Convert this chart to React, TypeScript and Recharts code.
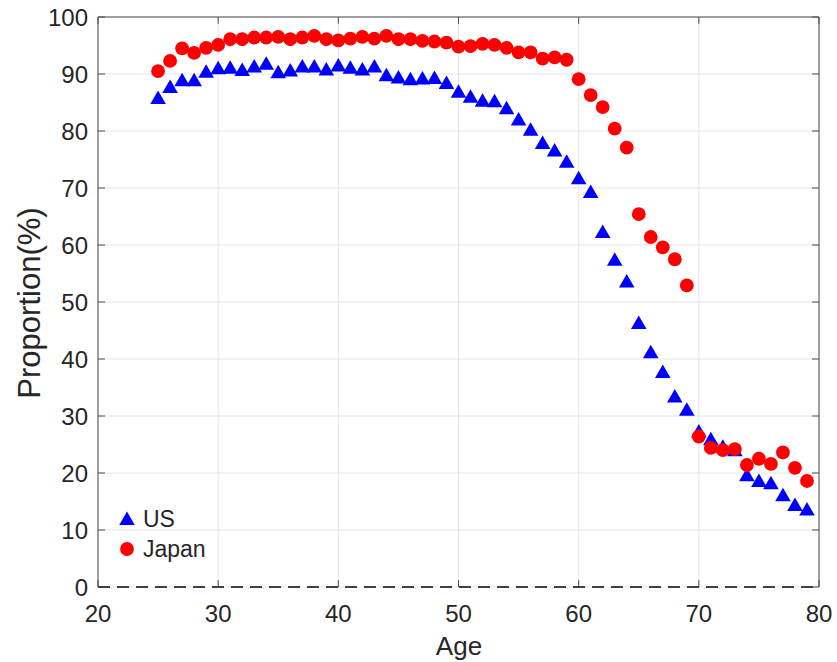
import React from "react"
import { ScatterChart, Scatter, XAxis, YAxis, CartesianGrid, ReferenceLine, Label } from "recharts"

const ages = [
  25, 26, 27, 28, 29, 30, 31, 32, 33, 34, 35, 36, 37, 38, 39, 40, 41, 42, 43, 44, 45, 46, 47, 48, 49, 50, 51, 52,
  53, 54, 55, 56, 57, 58, 59, 60, 61, 62, 63, 64, 65, 66, 67, 68, 69, 70, 71, 72, 73, 74, 75, 76, 77, 78, 79,
]

const usValues = [
  85.8, 87.7, 88.9, 88.9, 90.4, 91.0, 91.1, 90.7, 91.3, 91.8, 90.3, 90.6, 91.3, 91.3, 90.8, 91.5, 91.1, 90.8, 91.3,
  89.8, 89.4, 89.1, 89.2, 89.3, 88.4, 86.9, 86.0, 85.3, 85.2, 84.0, 82.0, 80.2, 77.9, 76.6, 74.6, 71.7, 69.3, 62.3,
  57.4, 53.6, 46.3, 41.2, 37.7, 33.4, 31.1, 27.3, 25.9, 24.6, 24.0, 19.6, 18.6, 18.2, 16.1, 14.4, 13.6,
]

const japanValues = [
  90.5, 92.3, 94.5, 93.7, 94.6, 95.1, 96.1, 96.1, 96.4, 96.4, 96.5, 96.1, 96.4, 96.7, 96.1, 95.9, 96.2, 96.5, 96.2,
  96.7, 96.1, 96.1, 95.8, 95.7, 95.5, 94.8, 94.9, 95.3, 95.1, 94.6, 93.8, 93.8, 92.7, 92.9, 92.5, 89.1, 86.3, 84.2,
  80.4, 77.1, 65.4, 61.4, 59.6, 57.5, 52.9, 26.4, 24.4, 24.0, 24.2, 21.4, 22.5, 21.6, 23.6, 20.9, 18.6,
]

const xTicks = [20, 30, 40, 50, 60, 70, 80]
const yTicks = [0, 10, 20, 30, 40, 50, 60, 70, 80, 90, 100]

const usData = ages.map((age, i) => ({ age, value: usValues[i] }))
const japanData = ages.map((age, i) => ({ age, value: japanValues[i] }))

const FONT = '"Liberation Sans", Arial, Helvetica, sans-serif'
const TEXT = "#262626"
const AXIS = "#4d4d4d"

// inward tick length in data units (~7px)
const X_TICK_LEN = 0.58
const Y_TICK_LEN = 1.2

const Triangle = (props: any) => {
  const { cx, cy, fill } = props
  if (cx == null || cy == null) return null
  return <polygon points={`${cx},${cy - 7.5} ${cx - 7.8},${cy + 6} ${cx + 7.8},${cy + 6}`} fill={fill} />
}

const Dot = (props: any) => {
  const { cx, cy, fill } = props
  if (cx == null || cy == null) return null
  return <circle cx={cx} cy={cy} r={6.9} fill={fill} />
}

// legend sits inside the axes, bottom-left, no box
function LegendBox() {
  return (
    <svg width={140} height={64} style={{ position: "absolute", left: 110, top: 502, fontFamily: FONT }}>
      <polygon points="17,9.5 9.2,23 24.8,23" fill="#0000ff" />
      <text x={33} y={25} fontSize={23} fill={TEXT}>US</text>
      <circle cx={17} cy={47} r={6.9} fill="#ff0000" />
      <text x={33} y={55} fontSize={23} fill={TEXT}>Japan</text>
    </svg>
  )
}

export default function App() {
  return (
    <div style={{ position: "absolute", left: 0, top: 0, width: 837, height: 662, background: "#fff", fontFamily: FONT }}>
      <ScatterChart width={837} height={662} margin={{ top: 17, right: 18, bottom: 0, left: 0 }}>
        <CartesianGrid stroke="#e6e6e6" strokeWidth={1} />
        <XAxis
          type="number"
          dataKey="age"
          domain={[20, 80]}
          ticks={xTicks}
          height={75}
          axisLine={false}
          tickLine={{ stroke: "none" }}
          tickSize={-7}
          tickMargin={25}
          tick={{ fill: TEXT, fontSize: 24, fontFamily: FONT }}
        >
          <Label
            content={() => (
              <text x={459} y={655} textAnchor="middle" fontSize={26} fill={TEXT} fontFamily={FONT}>Age</text>
            )}
          />
        </XAxis>
        <YAxis
          type="number"
          dataKey="value"
          domain={[0, 100]}
          ticks={yTicks}
          width={98}
          axisLine={{ stroke: AXIS }}
          tickLine={{ stroke: "none" }}
          tickSize={-7}
          tickMargin={17}
          tick={{ fill: TEXT, fontSize: 24, fontFamily: FONT }}
        >
          <Label
            content={() => (
              <text
                x={29}
                y={303}
                transform="rotate(-90 29 303)"
                textAnchor="middle"
                dominantBaseline="central"
                fontSize={31}
                fill={TEXT}
                fontFamily={FONT}
              >
                Proportion(%)
              </text>
            )}
          />
        </YAxis>
        <ReferenceLine y={100} stroke={AXIS} strokeWidth={1} />
        <ReferenceLine x={80} stroke={AXIS} strokeWidth={1} />
        {yTicks.map((t) => (
          <ReferenceLine key={`yl-${t}`} segment={[{ x: 20, y: t }, { x: 20 + X_TICK_LEN, y: t }]} stroke={AXIS} />
        ))}
        {yTicks.map((t) => (
          <ReferenceLine key={`yr-${t}`} segment={[{ x: 80 - X_TICK_LEN, y: t }, { x: 80, y: t }]} stroke={AXIS} />
        ))}
        {xTicks.map((t) => (
          <ReferenceLine key={`xb-${t}`} segment={[{ x: t, y: 0 }, { x: t, y: Y_TICK_LEN }]} stroke={AXIS} />
        ))}
        {xTicks.map((t) => (
          <ReferenceLine key={`xt-${t}`} segment={[{ x: t, y: 100 - Y_TICK_LEN }, { x: t, y: 100 }]} stroke={AXIS} />
        ))}
        <ReferenceLine y={0} stroke="#404040" strokeWidth={2} strokeDasharray="12 7" />
        <Scatter name="US" data={usData} fill="#0000ff" shape={<Triangle />} isAnimationActive={false} />
        <Scatter name="Japan" data={japanData} fill="#ff0000" shape={<Dot />} isAnimationActive={false} />
      </ScatterChart>
      <LegendBox />
    </div>
  )
}
